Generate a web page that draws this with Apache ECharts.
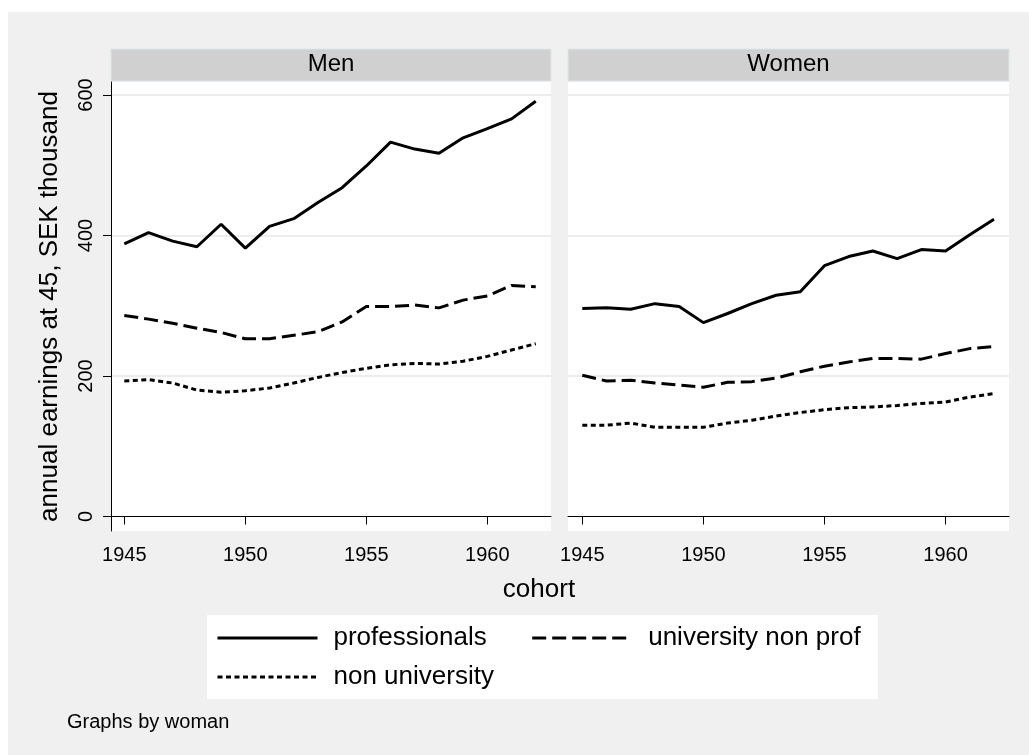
<!DOCTYPE html>
<html>
<head>
<meta charset="utf-8">
<script src="https://cdn.jsdelivr.net/npm/echarts@6/dist/echarts.min.js"></script>
<style>
  html, body { margin: 0; padding: 0; background: #ffffff; }
  #chart { width: 1029px; height: 755px; }
</style>
</head>
<body>
<div id="chart"></div>
<script>
// cohort years (x) and earnings at 45, SEK thousand (y)
var cohorts = [1945, 1946, 1947, 1948, 1949, 1950, 1951, 1952, 1953, 1954, 1955, 1956, 1957, 1958, 1959, 1960, 1961, 1962];

var menProfessionals = [388, 404, 392, 384, 416, 382, 413, 424, 447, 468, 499, 533, 523, 517, 539, 552, 566, 591];
var menUniversity    = [286, 281, 275, 268, 262, 253, 253, 258, 263, 277, 299, 299, 301, 297, 308, 314, 329, 327];
var menNonUniversity = [193, 195, 190, 180, 177, 179, 183, 190, 198, 205, 211, 216, 218, 217, 221, 228, 237, 246];

var womenProfessionals = [296, 297, 295, 303, 299, 276, 289, 303, 315, 320, 357, 370, 378, 367, 380, 378, 401, 423];
var womenUniversity    = [201, 193, 194, 190, 187, 184, 191, 192, 197, 206, 214, 220, 225, 225, 224, 232, 239, 242];
var womenNonUniversity = [130, 130, 133, 127, 127, 127, 133, 137, 143, 148, 152, 155, 156, 158, 161, 163, 170, 175];

var xTicks = [1945, 1950, 1955, 1960];
var yTicks = [0, 200, 400, 600];
var panelNames = ['Men', 'Women'];
var groupNames = ['professionals', 'university non prof', 'non university'];

var font = '"Liberation Sans", Arial, sans-serif';
var dashes = ['solid', [14, 6], [5, 3.5]];

function pairs(values) {
  return cohorts.map(function (c, i) { return [c, values[i]]; });
}

var chart = echarts.init(document.getElementById('chart'));

var panelData = [
  [menProfessionals, menUniversity, menNonUniversity],
  [womenProfessionals, womenUniversity, womenNonUniversity]
];

var grids = [
  { left: 111, top: 82, width: 440, height: 449 },
  { left: 568, top: 82, width: 441, height: 449 }
];

var xAxes = [];
var yAxes = [];
var series = [];
var graphics = [];

// outer gray graph region
graphics.push({ type: 'rect', z: -10, shape: { x: 8, y: 12, width: 1021, height: 743 }, style: { fill: '#f0f0f0' } });
// legend box
graphics.push({ type: 'rect', z: -5, shape: { x: 207, y: 615, width: 671, height: 84 }, style: { fill: '#ffffff' } });

grids.forEach(function (g, k) {
  g.show = true;
  g.backgroundColor = '#ffffff';
  g.borderWidth = 0;

  xAxes.push({
    type: 'value',
    gridIndex: k,
    min: k === 0 ? 1944.45 : 1944.41,
    max: k === 0 ? 1962.63 : 1962.62,
    axisLine: { show: true, lineStyle: { color: '#000', width: 1 } },
    axisTick: { show: true, length: 8, customValues: xTicks, lineStyle: { color: '#000' } },
    axisLabel: {
      customValues: xTicks, margin: 14, color: '#000', fontSize: 20, fontFamily: font,
      formatter: function (v) { return String(v); }
    },
    splitLine: { show: false }
  });

  yAxes.push({
    type: 'value',
    gridIndex: k,
    min: -20.6,
    max: 618.5,
    name: k === 0 ? 'annual earnings at 45, SEK thousand' : '',
    nameLocation: 'middle',
    nameGap: 48,
    nameTextStyle: { fontSize: 26, color: '#000', fontFamily: font },
    axisLine: { show: k === 0, lineStyle: { color: '#000', width: 1 } },
    axisTick: { show: k === 0, length: 8, customValues: yTicks, lineStyle: { color: '#000' } },
    axisLabel: { show: k === 0, customValues: yTicks, rotate: 90, margin: 15, color: '#000', fontSize: 20, fontFamily: font },
    splitLine: { show: true, lineStyle: { color: ['#ffffff', '#e6e6e6', '#e6e6e6', '#e6e6e6'], width: 1.5 } }
  });

  panelData[k].forEach(function (vals, j) {
    series.push({
      name: groupNames[j],
      type: 'line',
      xAxisIndex: k,
      yAxisIndex: k,
      data: pairs(vals),
      symbol: 'none',
      silent: true,
      lineStyle: { color: '#000', width: 3, type: dashes[j] },
      itemStyle: { color: '#000' }
    });
  });

  // strip header
  graphics.push({
    type: 'rect',
    shape: { x: g.left, y: 49, width: g.width, height: 32 },
    style: { fill: '#d0d0d0', stroke: '#dbe8ec', lineWidth: 1 }
  });
  graphics.push({
    type: 'text',
    x: g.left + g.width / 2,
    y: 64,
    style: { text: panelNames[k], fill: '#000', font: '24px ' + font, textAlign: 'center', textVerticalAlign: 'middle' }
  });
});

graphics.push({
  type: 'text', x: 539, y: 590,
  style: { text: 'cohort', fill: '#000', font: '26px ' + font, textAlign: 'center', textVerticalAlign: 'middle' }
});
graphics.push({
  type: 'text', x: 67, y: 722,
  style: { text: 'Graphs by woman', fill: '#000', font: '20px ' + font, textAlign: 'left', textVerticalAlign: 'middle' }
});

var legendBase = {
  padding: 0,
  left: 216,
  itemWidth: 100,
  itemHeight: 14,
  itemGap: 44,
  selectedMode: false,
  lineStyle: { width: 3 },
  itemStyle: { opacity: 0 },
  textStyle: { fontSize: 26, color: '#000', fontFamily: font, lineHeight: 30, padding: [0, 0, 0, 11] }
};

var option = {
  backgroundColor: '#ffffff',
  animation: false,
  grid: grids,
  xAxis: xAxes,
  yAxis: yAxes,
  legend: [
    Object.assign({}, legendBase, { top: 623, data: [groupNames[0], groupNames[1]] }),
    Object.assign({}, legendBase, { top: 662, data: [groupNames[2]] })
  ],
  graphic: graphics,
  series: series
};

chart.setOption(option);
</script>
</body>
</html>
